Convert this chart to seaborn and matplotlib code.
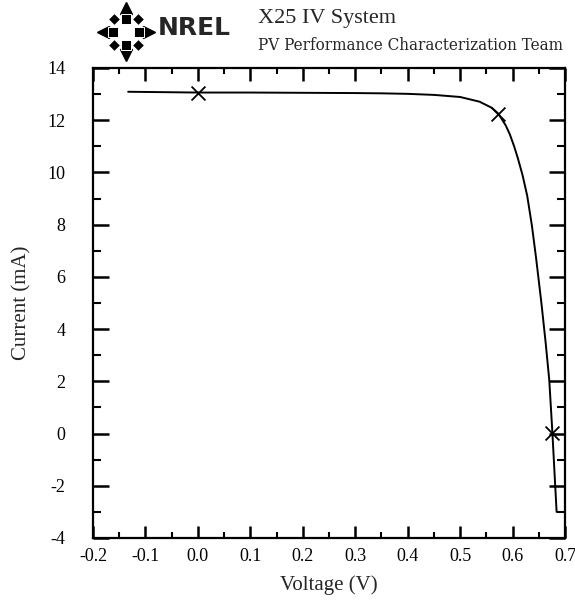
import numpy as np
import pandas as pd
import matplotlib
matplotlib.use("Agg")
import matplotlib.pyplot as plt
import seaborn as sns
from matplotlib.ticker import MultipleLocator

# I-V curve of the cell
voltage = [-0.133, 0.0, 0.1, 0.2, 0.3, 0.35, 0.4, 0.45, 0.5, 0.537, 0.56, 0.573,
           0.587, 0.595, 0.603, 0.610, 0.619, 0.628, 0.637, 0.645, 0.655, 0.663,
           0.670, 0.676, 0.680, 0.684]
current = [13.09, 13.06, 13.06, 13.05, 13.04, 13.03, 13.01, 12.97, 12.89, 12.71,
           12.48, 12.25, 11.80, 11.45, 11.00, 10.55, 9.90, 9.10, 7.95, 6.70,
           5.00, 3.50, 2.05, 0.02, -1.50, -3.00]

# key points: short circuit, max power, open circuit
key_v = [0.0, 0.573, 0.676]
key_i = [13.06, 12.25, 0.02]

x_ticks = [-0.2, -0.1, 0.0, 0.1, 0.2, 0.3, 0.4, 0.5, 0.6, 0.7]
y_ticks = [-4, -2, 0, 2, 4, 6, 8, 10, 12, 14]

sns.set_theme(style="white")
plt.rcParams["font.family"] = ["Liberation Serif", "DejaVu Serif"]

fig = plt.figure(figsize=(5.75, 6.01), dpi=100)
ax = fig.add_axes([93 / 575, 63 / 601, 472 / 575, 470 / 601])

df = pd.DataFrame({"V": voltage, "I": current})
sns.lineplot(data=df, x="V", y="I", ax=ax, color="black", linewidth=1.4,
             sort=False, estimator=None)
kp = pd.DataFrame({"V": key_v, "I": key_i})
sns.scatterplot(data=kp, x="V", y="I", ax=ax, marker="x", s=100, color="black",
                linewidth=1.3, zorder=5)

ax.set_xlim(-0.2, 0.7)
ax.set_ylim(-4, 14)
ax.set_xticks(x_ticks)
ax.set_yticks(y_ticks)
ax.set_xticklabels([f"{t:.1f}" for t in x_ticks])
ax.set_yticklabels([str(t) for t in y_ticks])
ax.xaxis.set_minor_locator(MultipleLocator(0.05))
ax.yaxis.set_minor_locator(MultipleLocator(1))
ax.tick_params(which="both", direction="in", top=True, right=True,
               bottom=True, left=True, colors="black", labelsize=13)
ax.tick_params(axis="x", which="major", length=9, width=1.8, pad=7)
ax.tick_params(axis="x", which="minor", length=4.5, width=1.5)
ax.tick_params(axis="y", which="major", length=11.5, width=1.8, pad=20)
ax.tick_params(axis="y", which="minor", length=5.5, width=1.5)
for s in ax.spines.values():
    s.set_color("black")
    s.set_linewidth(1.6)

ax.set_xlabel("Voltage (V)", fontsize=15)
ax.set_ylabel("Current (mA)", fontsize=15)
ax.xaxis.set_label_coords(0.5, -0.1)
ax.xaxis.label.set_va("center")
ax.yaxis.set_label_coords(-0.15, 0.5)
ax.yaxis.label.set_va("center")

# header: logo mark, agency name and system title
logo = fig.add_axes([0.169, 0.897, 0.1, 0.1])
logo.set_xlim(-1.4, 1.4)
logo.set_ylim(-1.4, 1.4)
logo.axis("off")
ang = np.deg2rad([90, 0, 270, 180])
for a, m in zip(ang, ["^", ">", "v", "<"]):
    logo.plot(np.cos(a) * 1.1, np.sin(a) * 1.1, marker=m, ms=9, color="black")
    logo.plot(np.cos(a) * 0.62, np.sin(a) * 0.62, marker="s", ms=7, color="black",
              mec="white", mew=0.7)
for a in np.deg2rad([45, 135, 225, 315]):
    logo.plot(np.cos(a) * 0.85, np.sin(a) * 0.85, marker="D", ms=6.5, color="black",
              mec="white", mew=0.7)
fig.text(158 / 575, 1 - 28 / 601, "NREL", fontsize=18, fontweight="bold",
         family=["DejaVu Sans"], va="center", ha="left")
fig.text(258 / 575, 1 - 18 / 601, "X25 IV System", fontsize=16, va="center",
         ha="left")
fig.text(258 / 575, 1 - 45 / 601, "PV Performance Characterization Team",
         fontsize=12.2, va="center", ha="left", family=["DejaVu Serif"],
         fontstretch="condensed")

fig.savefig("out.png", dpi=100, facecolor="white")
